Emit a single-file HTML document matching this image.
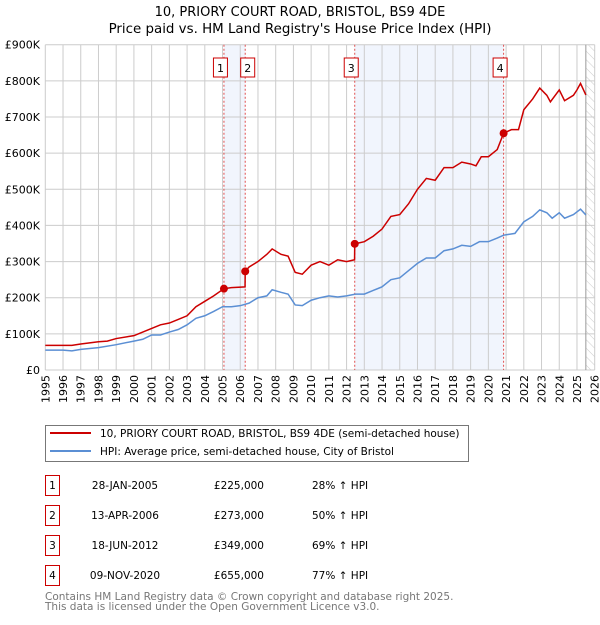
<!DOCTYPE html>
<html><head><meta charset="utf-8"><style>
body{margin:0;background:#fff;font-family:"Liberation Sans","DejaVu Sans",sans-serif;}
svg text{font-family:"DejaVu Sans","Liberation Sans",sans-serif;}
</style></head><body>
<svg id="c" width="600" height="620" xmlns="http://www.w3.org/2000/svg">
<defs><pattern id="hatch" width="6" height="6" patternUnits="userSpaceOnUse" patternTransform="rotate(-45)"><line x1="0" y1="0" x2="0" y2="6" stroke="#ccc" stroke-width="1"/></pattern></defs>
<text x="300" y="16" text-anchor="middle" font-size="13">10, PRIORY COURT ROAD, BRISTOL, BS9 4DE</text>
<text x="300" y="33" text-anchor="middle" font-size="13.4">Price paid vs. HM Land Registry's House Price Index (HPI)</text>
<g id="plot"></g>
<g>
<rect x="45.5" y="425.5" width="423" height="36" fill="#fff" stroke="#777"/>
<line x1="50" y1="433" x2="91" y2="433" stroke="#cc0000" stroke-width="2"/>
<text x="100" y="437" font-size="10.5">10, PRIORY COURT ROAD, BRISTOL, BS9 4DE (semi-detached house)</text>
<line x1="50" y1="451" x2="91" y2="451" stroke="#5b8fd4" stroke-width="2"/>
<text x="100" y="455" font-size="10.5">HPI: Average price, semi-detached house, City of Bristol</text>
</g>
<g id="table"></g>
<text x="45" y="600" font-size="10.5" fill="#777">Contains HM Land Registry data © Crown copyright and database right 2025.</text>
<text x="45" y="610" font-size="10.5" fill="#777">This data is licensed under the Open Government Licence v3.0.</text>
</svg>
<script>
const yTicks=[0,100,200,300,400,500,600,700,800,900];
const yTickLabels=["£0","£100K","£200K","£300K","£400K","£500K","£600K","£700K","£800K","£900K"];
const years=[1995,1996,1997,1998,1999,2000,2001,2002,2003,2004,2005,2006,2007,2008,2009,2010,2011,2012,2013,2014,2015,2016,2017,2018,2019,2020,2021,2022,2023,2024,2025,2026];
const propT=[1995,1996,1996.5,1997,1998,1998.5,1999,2000,2000.5,2001,2001.5,2002,2002.5,2003,2003.5,2004,2004.5,2005.08,2005.5,2006.27,2006.28,2006.5,2007,2007.5,2007.8,2008.3,2008.7,2009.1,2009.5,2010,2010.5,2011,2011.5,2012,2012.45,2012.46,2013,2013.5,2014,2014.5,2015,2015.5,2016,2016.5,2017,2017.5,2018,2018.5,2019,2019.3,2019.6,2020,2020.5,2020.86,2021.3,2021.7,2022,2022.5,2022.9,2023.3,2023.5,2024,2024.3,2024.8,2025.0,2025.2,2025.5];
const propV=[68,68,68,72,78,80,87,95,105,115,125,130,140,150,175,190,205,225,228,230,273,285,300,320,335,320,315,270,265,290,300,290,305,300,305,349,355,370,390,425,430,460,500,530,525,560,560,575,570,565,590,590,610,655,665,665,720,750,780,760,742,775,745,760,775,793,761];
const hpiT=[1995,1996,1996.5,1997,1998,1999,2000,2000.5,2001,2001.5,2002,2002.5,2003,2003.5,2004,2004.5,2005,2005.5,2006,2006.5,2007,2007.5,2007.8,2008.3,2008.7,2009.1,2009.5,2010,2010.5,2011,2011.5,2012,2012.5,2013,2013.5,2014,2014.5,2015,2015.5,2016,2016.5,2017,2017.5,2018,2018.5,2019,2019.5,2020,2020.5,2020.86,2021.5,2022,2022.5,2022.9,2023.3,2023.6,2024,2024.3,2024.8,2025.2,2025.5];
const hpiV=[55,55,53,57,62,70,80,85,97,97,105,112,125,143,150,162,175,175,178,185,200,205,222,215,210,180,178,193,200,205,202,205,210,210,220,230,250,255,275,295,310,310,330,335,345,342,355,355,365,373,378,410,425,443,435,420,435,420,430,445,429];
const saleLabels=["1","2","3","4"];
const saleT=[2005.08,2006.28,2012.46,2020.86];
const saleV=[225,273,349,655];
const saleDates=["28-JAN-2005","13-APR-2006","18-JUN-2012","09-NOV-2020"];
const salePrices=["£225,000","£273,000","£349,000","£655,000"];
const saleHpi=["28% ↑ HPI","50% ↑ HPI","69% ↑ HPI","77% ↑ HPI"];

const NS="http://www.w3.org/2000/svg";
const X0=45.3,X1=594.7,Y0=370,Y1=44.7;
const x=t=>X0+(t-1995)*(X1-X0)/31;
const y=v=>Y0-v*(Y0-Y1)/900;
const plot=document.getElementById('plot');
function mk(tag,attrs,parent){const e=document.createElementNS(NS,tag);for(const k in attrs)e.setAttribute(k,attrs[k]);(parent||plot).appendChild(e);return e;}
for(let i=0;i<4;i+=2){const r=mk('rect',{x:x(saleT[i]),y:Y1,width:x(saleT[i+1])-x(saleT[i]),height:Y0-Y1,fill:'#eef3fc',opacity:0.8});

}
const h=mk('rect',{x:x(2025.5),y:Y1,width:X1-x(2025.5),height:Y0-Y1,fill:'url(#hatch)'});


yTicks.forEach((v,i)=>{mk('line',{x1:X0,x2:X1,y1:y(v),y2:y(v),stroke:'#ccc'});
const t=mk('text',{x:40,y:y(v)+4,'text-anchor':'end','font-size':11});t.textContent=yTickLabels[i];

});
years.forEach(yr=>{mk('line',{x1:x(yr),x2:x(yr),y1:Y1,y2:Y0,stroke:'#ccc'});
const t=mk('text',{transform:`translate(${x(yr)+4},${Y0+5}) rotate(-90)`,'text-anchor':'end','font-size':11});t.textContent=yr;

});
mk('line',{x1:x(2025.5),x2:x(2025.5),y1:Y1,y2:Y0,stroke:'#999'});
saleT.forEach(t=>{mk('line',{x1:x(t),x2:x(t),y1:Y1,y2:Y0,stroke:'#e05050','stroke-dasharray':'2,2'});});
const hp=mk('polyline',{points:hpiT.map((t,i)=>x(t)+','+y(hpiV[i])).join(' '),fill:'none',stroke:'#5b8fd4','stroke-width':1.5});


const pp=mk('polyline',{points:propT.map((t,i)=>x(t)+','+y(propV[i])).join(' '),fill:'none',stroke:'#cc0000','stroke-width':1.5});


saleT.forEach((t,i)=>{const c=mk('circle',{cx:x(t),cy:y(saleV[i]),r:4,fill:'#cc0000'});


const cx=i==0?x(t)-3:(i==1?x(t)+3:x(t)-3);
const b=mk('rect',{x:cx-7.5,y:58,width:14,height:19,fill:'#fff',stroke:'#cc0000'});


const tx=mk('text',{x:cx-0.5,y:72,'text-anchor':'middle','font-size':11});tx.textContent=saleLabels[i];

});
const tb=document.getElementById('table');
saleLabels.forEach((l,i)=>{const yy=476+i*30;
mk('rect',{x:45.5,y:yy-0.5,width:14,height:20,fill:'#fff',stroke:'#cc0000'},tb);
const a=mk('text',{x:52.5,y:yy+13,'text-anchor':'middle','font-size':10.5},tb);a.textContent=l;


const d=mk('text',{x:125,y:yy+13,'text-anchor':'middle','font-size':10.5},tb);d.textContent=saleDates[i];


const p=mk('text',{x:264,y:yy+13,'text-anchor':'end','font-size':10.5},tb);p.textContent=salePrices[i];


const q=mk('text',{x:312,y:yy+13,'font-size':10.5},tb);q.textContent=saleHpi[i];

});
</script>
</body></html>
